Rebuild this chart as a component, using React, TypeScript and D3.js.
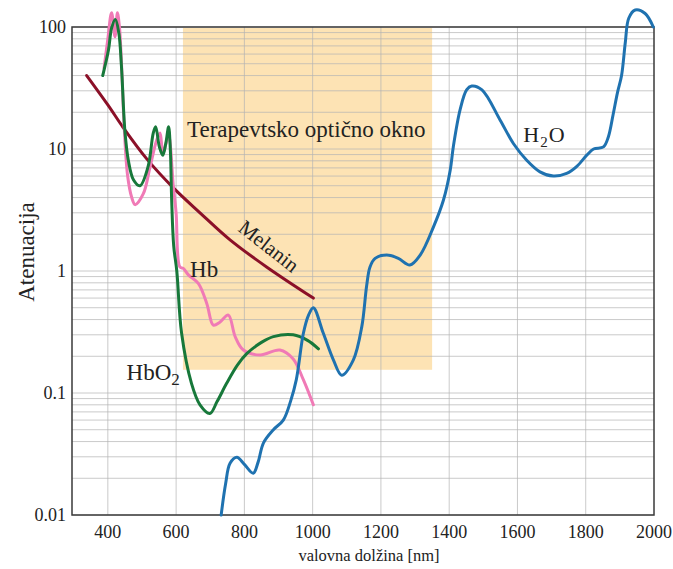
import * as d3 from "d3";

// wavelength [nm] / attenuation pairs
const melaninNm = [338, 400, 445, 514, 592, 670, 758, 865, 1002];
const melaninVal = [40, 23, 15, 8.3, 4.8, 3.0, 1.8, 1.08, 0.6];

const hbO2Nm = [385, 402, 411, 422, 432, 440, 450, 460, 475, 494, 518, 533, 540, 551, 561, 570, 578, 583, 587, 593, 602, 616, 645, 670, 699, 720, 748, 780, 807, 850, 885, 943, 985, 1017];
const hbO2Val = [40, 65, 98, 115, 90, 47, 14, 8.1, 5.6, 5.0, 7.2, 13.5, 15.2, 10.4, 8.9, 11.2, 15.2, 10, 3.8, 1.6, 1.0, 0.31, 0.12, 0.08, 0.068, 0.085, 0.12, 0.17, 0.21, 0.26, 0.29, 0.3, 0.27, 0.23];

const hbNm = [389, 400, 411, 421, 428, 434, 440, 448, 458, 470, 480, 504, 524, 543, 553, 561, 570, 578, 592, 600, 611, 621, 636, 665, 690, 709, 728, 753, 773, 797, 846, 904, 943, 973, 1002];
const hbVal = [46, 80, 131, 83, 131, 100, 50, 15, 6, 4, 3.5, 4.3, 7.2, 11.8, 13.5, 9.2, 11, 13, 4.9, 3.0, 1.08, 1.05, 0.93, 0.79, 0.54, 0.36, 0.38, 0.435, 0.29, 0.225, 0.205, 0.225, 0.19, 0.128, 0.08];

const h2oNm = [732, 745, 758, 778, 800, 826, 840, 856, 885, 914, 935, 952, 973, 988, 1002, 1031, 1061, 1085, 1119, 1144, 1158, 1168, 1183, 1217, 1251, 1285, 1315, 1354, 1383, 1403, 1412, 1432, 1451, 1466, 1496, 1549, 1588, 1627, 1666, 1705, 1744, 1774, 1803, 1823, 1852, 1866, 1880, 1893, 1905, 1916, 1926, 1945, 1974, 1998];
const h2oVal = [0.01, 0.018, 0.0265, 0.0297, 0.026, 0.022, 0.027, 0.039, 0.05, 0.06, 0.085, 0.128, 0.31, 0.435, 0.5, 0.31, 0.186, 0.14, 0.186, 0.35, 0.75, 1.08, 1.27, 1.35, 1.27, 1.12, 1.35, 2.3, 3.8, 6.7, 10.4, 21, 30.5, 32.8, 30.5, 17.3, 11.1, 8.1, 6.5, 6.0, 6.3, 7.2, 8.9, 10, 10.4, 12.5, 19, 29, 40, 75, 118, 138, 129, 100];

const xTicks = [400, 600, 800, 1000, 1200, 1400, 1600, 1800, 2000];
const yTicks = [100, 10, 1, 0.1, 0.01];
const yTickLabels = ["100", "10", "1", "0.1", "0.01"];

const windowNm = [620, 1350];
const windowVal = [0.155, 100];

const width = 673;
const height = 569;
const marginLeft = 72;
const marginRight = 19;
const marginTop = 27;
const marginBottom = 54;

const serif = "'Liberation Serif', 'Times New Roman', serif";

const App = () => {
  const x = d3
    .scaleLinear()
    .domain([295, 2000])
    .range([marginLeft, width - marginRight]);
  const y = d3
    .scaleLog()
    .domain([0.01, 100])
    .range([height - marginBottom, marginTop]);

  const line = d3
    .line<[number, number]>()
    .x((d) => x(d[0]))
    .y((d) => y(d[1]))
    .curve(d3.curveCatmullRom.alpha(0.5));

  const zip = (a: number[], b: number[]) => a.map((v, i) => [v, b[i]] as [number, number]);

  const minor: number[] = [];
  [0.01, 0.1, 1, 10].forEach((base) => {
    for (let k = 2; k <= 9; k++) minor.push(base * k);
  });

  const series = [
    { key: "melanin", d: zip(melaninNm, melaninVal), color: "#8b1028" },
    { key: "hb", d: zip(hbNm, hbVal), color: "#f07ab6" },
    { key: "hbo2", d: zip(hbO2Nm, hbO2Val), color: "#17783a" },
    { key: "h2o", d: zip(h2oNm, h2oVal), color: "#1f72b0" },
  ];

  const x0 = marginLeft;
  const x1 = width - marginRight;
  const y0 = marginTop;
  const y1 = height - marginBottom;

  return (
    <svg width={width} height={height} style={{ display: "block", position: "absolute", left: 0, top: 0 }}>
      <rect width={width} height={height} fill="#fff" />
      <rect
        x={x(windowNm[0])}
        y={y(windowVal[1]) + 1}
        width={x(windowNm[1]) - x(windowNm[0])}
        height={y(windowVal[0]) - y(windowVal[1]) - 1}
        fill="#fde3b4"
      />
      {minor.concat(yTicks).map((v) => (
        <line key={"h" + v} x1={x0} x2={x1} y1={y(v)} y2={y(v)} stroke="#b4b4b4" strokeOpacity={0.7} strokeWidth={1} />
      ))}
      {xTicks.slice(0, -1).map((v) => (
        <line key={"v" + v} x1={x(v)} x2={x(v)} y1={y0} y2={y1} stroke="#b4b4b4" strokeOpacity={0.7} strokeWidth={1} />
      ))}
      <rect x={x0} y={y0} width={x1 - x0} height={y1 - y0} fill="none" stroke="#3a3a3a" strokeWidth={1.5} />
      {yTicks.map((v, i) => (
        <text key={"yl" + v} x={x0 - 6} y={y(v)} dy="0.35em" textAnchor="end" fontFamily={serif} fontSize={18} fill="#222">
          {yTickLabels[i]}
        </text>
      ))}
      {xTicks.map((v) => (
        <text key={"xl" + v} x={x(v)} y={y1 + 23} textAnchor="middle" fontFamily={serif} fontSize={18} fill="#222">
          {v}
        </text>
      ))}
      <text transform={`translate(34,252) rotate(-90)`} textAnchor="middle" fontFamily={serif} fontSize={23} fill="#222">
        Atenuacija
      </text>
      <text x={369} y={561} textAnchor="middle" fontFamily={serif} fontSize={16.5} fill="#222">
        valovna dolžina [nm]
      </text>
      {series.map((s) => (
        <path key={s.key} d={line(s.d) ?? ""} fill="none" stroke={s.color} strokeWidth={3} strokeLinejoin="round" strokeLinecap="round" />
      ))}
      <text x={x(632)} y={y(12.5)} fontFamily={serif} fontSize={23} fill="#222">
        Terapevtsko optično okno
      </text>
      <text x={x(1617)} y={y(11.4)} fontFamily={serif} fontSize={22} fill="#222">
        H
        <tspan dx={1} dy={5} fontSize={15}>2</tspan>
        <tspan dx={1} dy={-5}>O</tspan>
      </text>
      <text x={x(641)} y={y(0.89)} fontFamily={serif} fontSize={23} fill="#222">
        Hb
      </text>
      <text x={x(455)} y={y(0.128)} fontFamily={serif} fontSize={23} fill="#222">
        HbO
        <tspan dy={5} fontSize={17}>2</tspan>
      </text>
      <text transform={`translate(269,246) rotate(38)`} textAnchor="middle" dy="0.35em" fontFamily={serif} fontSize={21} fill="#222">
        Melanin
      </text>
    </svg>
  );
};

export default App;
